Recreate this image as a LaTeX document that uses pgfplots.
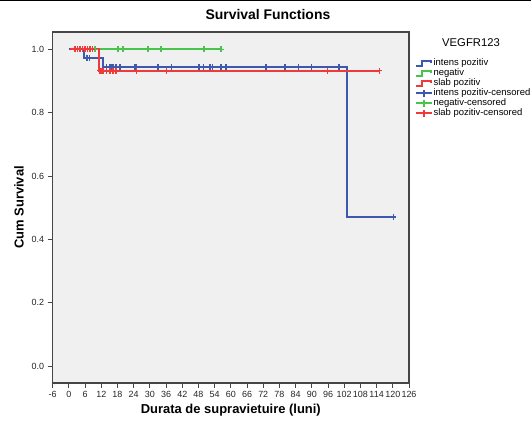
\documentclass[border=0pt]{standalone}
\usepackage{fontspec}
\setmainfont{Liberation Sans}
\usepackage{pgfplots}
\pgfplotsset{compat=1.18}

\definecolor{kmblue}{RGB}{62,88,176}
\definecolor{kmgreen}{RGB}{72,196,76}
\definecolor{kmred}{RGB}{238,58,58}
\definecolor{plotbg}{RGB}{240,240,240}
\definecolor{frame}{RGB}{70,70,70}

\pgfplotsset{
	step legend/.style={legend image code/.code={
		\draw[#1,line width=2bp] (0bp,-2.5bp) -- (6bp,-2.5bp) -- (6bp,2.5bp) -- (15bp,2.5bp) -- (15bp,0bp);}},
	cens legend/.style={legend image code/.code={
		\draw[#1,line width=2bp] (0bp,0bp) -- (16bp,0bp);
		\draw[#1,line width=2bp] (8bp,-3.5bp) -- (8bp,3.5bp);}},
}

\begin{document}
\begin{tikzpicture}
\useasboundingbox (0,0) rectangle (531bp,424bp);
\draw[line width=1bp] (0,423.5bp) -- (531bp,423.5bp);
\node[font=\fontsize{11.3}{13}\selectfont] at (471bp,381bp) {VEGFR123};
\begin{axis}[
	at={(52.7bp,41bp)}, anchor=south west,
	scale only axis,
	width=356.3bp, height=351bp,
	xmin=-6, xmax=126,
	ymin=-0.053, ymax=1.055,
	xtick={-6,0,...,126},
	ytick={0,0.2,...,1.0},
	yticklabel style={/pgf/number format/.cd,fixed,fixed zerofill,precision=1},
	/pgf/number format/assume math mode=true,
	tick pos=left,
	tick align=outside,
	major tick length=5bp,
	tick style={frame,line width=1bp},
	axis line style={frame,line width=1.2bp},
	axis background/.style={fill=plotbg},
	ticklabel style={font=\fontsize{9}{10}\selectfont, text=black!85},
	xticklabel style={inner xsep=0bp},
	title={\textbf{Survival Functions}},
	title style={at={(0.604,1.034)}, anchor=center, font=\fontsize{14}{16}\selectfont},
	xlabel={\textbf{Durata de supravietuire (luni)}},
	xlabel style={at={(0.5,-0.077)}, anchor=center, font=\fontsize{13}{15}\selectfont},
	ylabel={\textbf{Cum Survival}},
	ylabel style={at={(-0.0946,0.5)}, anchor=center, font=\fontsize{13}{15}\selectfont},
	legend style={at={(1.008,0.931)}, anchor=north west, draw=none, fill=none,
		font=\fontsize{9.5}{10}\selectfont,
		nodes={inner ysep=0.5bp, inner xsep=0.5bp, text height=6.5bp, text depth=2bp},
		row sep=0.5bp},
	legend cell align=left,
	mark size=3bp,
]
% Kaplan-Meier curves
\addplot[kmblue, line width=2bp, const plot, step legend] coordinates {
	(0,1) (5.7,0.972) (12.8,0.943) (102.9,0.471) (120.2,0.471)};
\addplot[kmgreen, line width=2bp, const plot, step legend] coordinates {
	(0.4,1) (56.6,1)};
\addplot[kmred, line width=2bp, const plot, step legend] coordinates {
	(0.4,1) (11.3,0.933) (115,0.933)};
% censored observations
\addplot[kmblue, only marks, mark=+, line width=1.6bp, cens legend=kmblue] coordinates {
	(6.8,0.972) (7.6,0.972)
	(14,0.943) (15.2,0.943) (15.8,0.943) (16.4,0.943) (17.4,0.943) (18.9,0.943)
	(24.5,0.943) (25.1,0.943) (33.1,0.943) (38,0.943) (48.3,0.943) (49.8,0.943)
	(52.3,0.943) (53.2,0.943) (56.4,0.943) (58.2,0.943) (73,0.943) (80,0.943)
	(85,0.943) (89.9,0.943) (100,0.943) (120.2,0.471)};
\addplot[kmgreen, only marks, mark=+, line width=1.6bp, cens legend=kmgreen] coordinates {
	(9.7,1) (18.3,1) (20.1,1) (29.2,1) (34.1,1) (50.1,1) (56.4,1)};
\addplot[kmred, only marks, mark=+, line width=1.6bp, cens legend=kmred] coordinates {
	(2.2,1) (3.2,1) (4.1,1) (5.0,1) (6.0,1) (6.9,1) (7.8,1) (8.7,1)
	(11.6,0.933) (12.2,0.933) (12.8,0.933) (14,0.933) (15.2,0.933) (16.4,0.933)
	(17.4,0.933) (25.1,0.933) (36.2,0.933) (95.8,0.933) (115,0.933)};
\legend{intens pozitiv, negativ, slab pozitiv, intens pozitiv-censored, negativ-censored, slab pozitiv-censored}
\end{axis}
\end{tikzpicture}
\end{document}
